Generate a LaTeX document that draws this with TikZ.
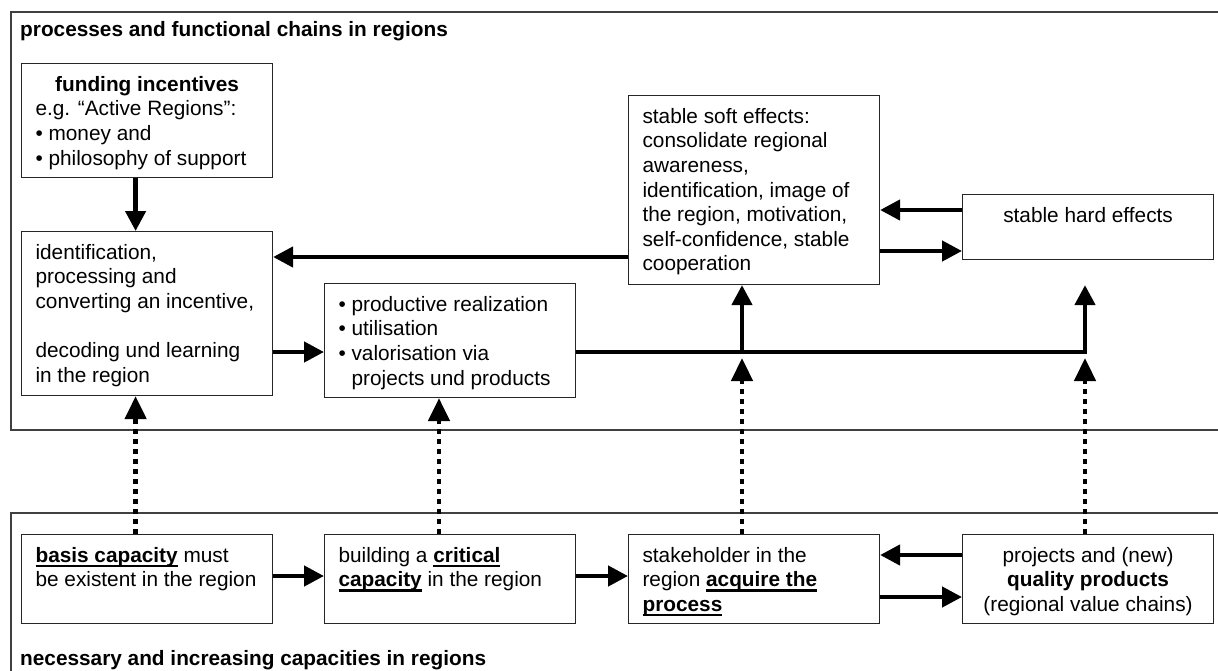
\documentclass[tikz,border=0pt]{standalone}
\usepackage{fontspec}
\setmainfont{Liberation Sans}
\usetikzlibrary{arrows.meta}
\newcommand{\ubf}[1]{\setbox0\hbox{\textbf{#1}}\rlap{\rule[-5pt]{\wd0}{2.6pt}}\box0\relax}
\newcommand{\bxt}[3]{\parbox[c][#2][t]{#1}{#3}}
\tikzset{
 boxn/.style={draw=black!85, line width=1.1pt, anchor=north west, inner xsep=14pt, inner ysep=10.5pt, font=\fontsize{20.8}{24.6}\selectfont, fill=white},
 arr/.style={line width=4.4pt, -{Triangle[length=20pt,width=20pt]}},
 dotarr/.style={line width=4.6pt, dash pattern=on 5pt off 5pt, -{Triangle[length=23pt,width=21pt]}},
 frame/.style={draw=black!75, line width=1.3pt},
 ttl/.style={anchor=base west, inner sep=0pt, font=\fontsize{20.8}{24.6}\selectfont\bfseries}
}
\begin{document}
\begin{tikzpicture}[x=1pt,y=-1pt]
\useasboundingbox (0,0) rectangle (1218,670);
\clip (0,0) rectangle (1218,670);
% frames
\draw[frame] (1230,12) -- (11,12) -- (11,430) -- (1230,430);
\draw[frame] (1230,513) -- (11,513) -- (11,700);
\node[ttl] (t1) at (20,36) {processes and functional chains in regions};
\node[ttl] (t2) at (20,665) {necessary and increasing capacities in regions};
% boxes
\node[boxn] (fund) at (21,63) {\bxt{223pt}{93pt}{\strut\makebox[\linewidth]{\textbf{funding incentives}}\\
e.g. “Active Regions”:\\
• money and\\
• philosophy of support}};
\node[boxn] (ident) at (21,231) {\bxt{223pt}{143pt}{\strut identification,\\
processing and\\
converting an incentive,\\[24.6pt]
decoding und learning\\
in the region}};
\node[boxn] (prod) at (324,283) {\bxt{223pt}{93pt}{\strut • productive realization\\
• utilisation\\
• valorisation via\\
\phantom{• }projects und products}};
\node[boxn] (soft) at (628,95) {\bxt{223pt}{168pt}{\strut stable soft effects:\\
consolidate regional\\
awareness,\\
identification, image of\\
the region, motivation,\\
self-confidence, stable\\
cooperation}};
\node[boxn] (hard) at (962,194) {\bxt{223pt}{44pt}{\centering\strut stable hard effects}};
\node[boxn] (basis) at (21,534) {\bxt{223pt}{68pt}{\strut\ubf{basis capacity} must\\
be existent in the region}};
\node[boxn] (crit) at (324,534) {\bxt{223pt}{68pt}{\strut building a \ubf{critical}\\
\ubf{capacity} in the region}};
\node[boxn] (stake) at (628,534) {\bxt{223pt}{68pt}{\strut stakeholder in the\\
region \ubf{acquire the}\\
\ubf{process}}};
\node[boxn] (proj) at (962,534) {\bxt{223pt}{68pt}{\centering\strut projects and (new)\\
\textbf{quality products}\\
(regional value chains)}};
% helper coordinates
\coordinate (xa) at (135.6,0);
\coordinate (xb) at (439,0);
\coordinate (xc) at (742,0);
\coordinate (xd) at (1085,0);
\coordinate (ya) at (0,257);
\coordinate (yb) at (0,210);
\coordinate (yc) at (0,251);
\coordinate (yd) at (0,352);
\coordinate (ye) at (0,576);
\coordinate (yf) at (0,555);
\coordinate (yg) at (0,597);
\coordinate (jc) at (742,358);
\coordinate (jd) at (1085,358);
% connectors
\draw[arr] (fund.south -| xa) -- (ident.north -| xa);
\draw[arr] (soft.west |- ya) -- (ident.east |- ya);
\draw[arr] (hard.west |- yb) -- (soft.east |- yb);
\draw[arr] (soft.east |- yc) -- (hard.west |- yc);
\draw[arr] (ident.east |- yd) -- (prod.west |- yd);
\draw[arr] (prod.east |- yd) -- (xd |- yd) -- (xd |- soft.south);
\draw[arr] (xc |- yd) -- (xc |- soft.south);
\draw[dotarr] (basis.north -| xa) -- (ident.south -| xa);
\draw[dotarr] (crit.north -| xb) -- (prod.south -| xb);
\draw[dotarr] (stake.north -| jc) -- (jc);
\draw[dotarr] (proj.north -| jd) -- (jd);
\draw[arr] (basis.east |- ye) -- (crit.west |- ye);
\draw[arr] (crit.east |- ye) -- (stake.west |- ye);
\draw[arr] (proj.west |- yf) -- (stake.east |- yf);
\draw[arr] (stake.east |- yg) -- (proj.west |- yg);
\end{tikzpicture}
\end{document}
